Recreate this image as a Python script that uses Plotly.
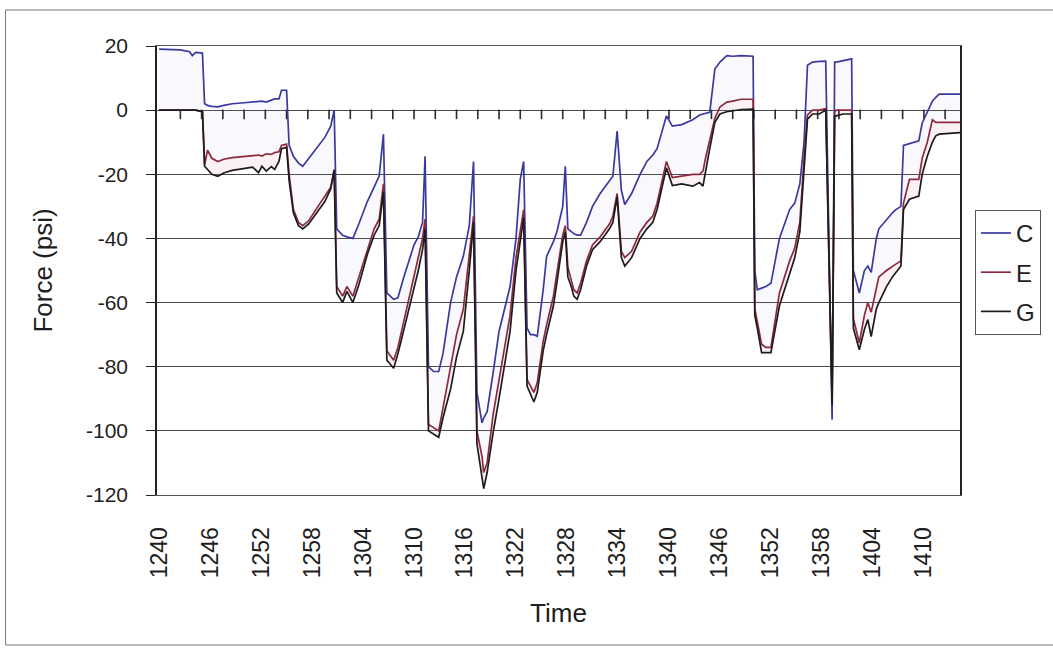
import plotly.graph_objects as go

# minutes after 12:40
minutes = [0.0, 1.0, 2.5, 3.6, 3.9, 4.3, 5.1, 5.35, 5.7, 6.2, 6.9, 7.6, 8.6, 10.0, 11.0, 11.7, 12.1, 12.6,
           13.2, 13.6, 14.1, 14.4, 15.0, 15.3, 15.8, 16.4, 16.9, 17.6, 18.7, 19.5, 20.2, 20.6,
           20.9, 21.6, 22.1, 22.8, 23.5, 24.5, 25.3, 25.9, 26.4,
           26.8, 27.6, 28.1, 28.8, 30.0, 30.5, 31.0, 31.3,
           31.7, 32.3, 32.9, 33.4, 34.3, 35.0, 35.8, 36.5, 37.0,
           37.4, 38.0, 38.2, 38.6, 39.3, 40.0, 41.3, 42.0, 42.5, 42.9,
           43.3, 43.7, 44.1, 44.5, 45.2, 45.6, 46.4, 46.8, 47.5, 47.8,
           48.1, 48.5, 48.8, 49.2, 49.6, 50.3, 51.0, 51.9, 52.2, 53.0, 53.4, 53.9,
           54.4, 54.8, 55.6, 56.6, 57.4, 58.1, 58.6, 59.7, 60.4, 61.5, 62.8, 63.6, 64.0, 64.3, 64.8,
           65.4, 66.0, 66.8, 67.5, 68.5, 69.9,
           70.1, 70.4, 70.9, 71.4, 72.0, 73.0, 74.2, 74.8, 75.4, 75.9, 76.3, 76.9, 77.7, 78.45,
           79.2, 79.5, 79.7, 80.5, 81.5,
           81.7, 82.4, 83.0, 83.4, 83.8, 84.4, 84.7, 85.6, 86.3, 86.7, 87.3, 87.6, 88.3, 89.4, 89.8,
           90.4, 91.0, 91.4, 91.8, 94.25]

C = [19, 19, 18.8, 18.2, 17, 18, 17.8, 2, 1.5, 1.2, 1.0, 1.5, 2.0, 2.3, 2.5, 2.6, 2.8, 2.5,
     3.2, 3.5, 3.5, 6.2, 6.2, -11, -14.4, -16.5, -17.5, -15, -11, -8.5, -5, 0,
     -37, -39, -39.5, -40, -35.5, -28.5, -24, -20.5, -7.5,
     -57, -59, -58.5, -52, -42, -39.5, -35, -14.4,
     -80, -81.5, -81.5, -76, -60, -52, -45.6, -36, -16,
     -88, -97.5, -96, -94, -82, -69, -55, -40, -21.6, -16,
     -68, -70, -70, -70.5, -56, -45.6, -41, -38, -30, -17.5,
     -37, -38, -38.5, -39, -39, -35, -30, -26, -25, -22, -20.6, -6.5,
     -25, -29.4, -26, -20, -16, -14, -12, -1.8, -5, -4.5, -3, -1.5, -1.2, -1, -0.7,
     12.8, 15, 17, 16.8, 17, 16.8,
     -50, -56, -55.5, -55, -54, -40, -31, -29, -23, -10, 14, 15, 15.2, 15.3,
     -96.5, 15, 15, 15.5, 16,
     -50, -57, -50, -48.6, -50.6, -40, -37, -34, -32, -31, -30, -11, -10.5, -9.6, -4,
     -0.7, 2.8, 4, 5, 5]

E = [0, 0, 0, 0.2, 0, 0, -0.5, -17, -12.5, -15, -16, -15.3, -14.8, -14.4, -14.2, -14, -14.3, -13.6,
     -13.8, -13.2, -13, -11, -10.6, -20, -31, -35, -36, -34.5, -30, -27, -24, -18.5,
     -55, -58, -55, -58, -52, -44, -37, -34, -23,
     -75, -78, -74, -66, -52, -46, -40, -34,
     -98, -99, -100, -93, -80, -70, -62, -46, -33,
     -100, -108, -113, -110, -95, -84, -64, -46, -37, -31,
     -84, -86, -88, -85, -72, -67, -58, -51, -39, -36,
     -49, -53, -56, -57, -54, -47, -42, -39.5, -38.5, -35.5, -33, -26,
     -44, -46, -44, -38, -35, -33, -29, -16, -21, -20.5, -20, -20, -19, -15, -9,
     -2.5, 1, 2.5, 2.8, 3.4, 3.4,
     -62, -66, -73, -74, -74, -57, -47, -43, -35, -15, -1.5, 0, 0, 0.5,
     -90, -0.5, 0, 0, 0,
     -65, -72.6, -64, -60, -63, -56, -52, -50, -48.6, -48, -47, -29, -21.6, -21.6, -15,
     -10, -3, -3.8, -3.8, -3.8]

G = [0, 0, 0, 0.2, 0, 0, -0.5, -17.5, -18.5, -20, -20.6, -19.6, -18.8, -18.2, -17.8, -19.5, -17.5, -19,
     -17.6, -18.5, -16, -12, -11.6, -22, -32, -36, -37, -35.5, -31.5, -28.5, -24.5, -18.8,
     -57, -60, -56.5, -60, -54.5, -45, -39, -36, -25.5,
     -78, -80.5, -76, -68.5, -56, -50, -43.5, -37,
     -100, -101, -102, -96, -87, -77, -69, -50, -35,
     -104, -114, -118, -113, -100.6, -90, -69, -50, -40, -33.5,
     -86, -88.5, -91, -88, -75, -70, -61, -54, -41, -38,
     -52, -55, -58, -59, -56, -48.6, -43.5, -41, -40, -37, -35, -27,
     -46, -48.6, -46, -40, -37, -35, -31, -18, -23.5, -23, -23.7, -22.6, -23.7, -19, -12,
     -3.8, -1.2, -0.5, -0.3, 0.2, 0.3,
     -64, -68, -75.6, -75.6, -75.6, -61, -50.6, -46, -38, -17.5, -2.8, -1.2, -1.2, 0,
     -92, -1.8, -1.8, -1.2, -1.2,
     -68, -74.7, -68.4, -65.3, -70.6, -62, -60, -55, -52, -50.6, -48.6, -31, -27.8, -26.8, -20,
     -14.4, -10, -8, -7.5, -7]

time_ticks = list(range(0, 91, 6))
time_labels = ["1240", "1246", "1252", "1258", "1304", "1310", "1316", "1322",
               "1328", "1334", "1340", "1346", "1352", "1358", "1404", "1410"]
minor_time_ticks = [2.5 * k for k in range(1, 38)]
force_ticks = [-120, -100, -80, -60, -40, -20, 0, 20]
force_labels = ["-120", "-100", "-80", "-60", "-40", "-20", "0", "20"]
Y_MIN, Y_MAX = -120, 20

FONT = "Liberation Sans, Arial, sans-serif"
TXT = "#1e1e1e"
col_c = "#3a3a9e"
col_e = "#8c2a3c"
col_g = "#1c1c1c"

fig = go.Figure()
# faint shading between the curves
fig.add_trace(go.Scatter(x=minutes, y=C, mode="lines", line=dict(width=0), showlegend=False, hoverinfo="skip"))
fig.add_trace(go.Scatter(x=minutes, y=E, mode="lines", line=dict(width=0), fill="tonexty",
                         fillcolor="rgba(170,160,215,0.07)", showlegend=False, hoverinfo="skip"))
fig.add_trace(go.Scatter(x=minutes, y=G, mode="lines", line=dict(width=0), fill="tonexty",
                         fillcolor="rgba(225,150,170,0.14)", showlegend=False, hoverinfo="skip"))

# category tick marks hanging below the zero line (drawn as one-sided error bars)
n_minor = len(minor_time_ticks)
tick_units = 9 * (Y_MAX - Y_MIN) / 449.0
fig.add_trace(go.Scatter(x=minor_time_ticks, y=[0] * n_minor, mode="markers",
                         marker=dict(size=2, color="rgba(40,40,40,0.6)"),
                         error_y=dict(type="data", symmetric=False, array=[0] * n_minor,
                                      arrayminus=[tick_units] * n_minor, width=0,
                                      thickness=1.6, color="#2a2a2a", visible=True),
                         showlegend=False, hoverinfo="skip"))

# series lines
for name, ys, col in [("C", C, col_c), ("E", E, col_e), ("G", G, col_g)]:
    fig.add_trace(go.Scatter(x=minutes, y=ys, mode="lines", name=name, legendgroup=name,
                             line=dict(color=col, width=1.7)))

xr = [-0.25, 94.25]
fig.update_layout(
    width=1053, height=653,
    margin=dict(l=157, r=90, t=46, b=158),
    paper_bgcolor="white", plot_bgcolor="white",
    font=dict(family=FONT, size=21, color=TXT),
    showlegend=True,
    legend=dict(x=1.0186, y=0.635, xanchor="left", yanchor="top",
                bordercolor="#555555", borderwidth=1, bgcolor="white",
                font=dict(size=24, family=FONT, color=TXT),
                tracegroupgap=5, itemwidth=30),
    xaxis=dict(range=xr, tickvals=time_ticks, ticktext=time_labels, tickangle=-90,
               ticks="", ticklabelstandoff=22, showgrid=False, zeroline=False,
               showline=True, mirror=True, linecolor="#555555", linewidth=1,
               tickfont=dict(size=23),
               title=dict(text="Time", font=dict(size=26), standoff=26)),
    yaxis=dict(range=[Y_MIN, Y_MAX], tickvals=force_ticks, ticktext=force_labels,
               ticks="outside", ticklen=9, tickcolor="#222222", ticklabelstandoff=14,
               showgrid=True, gridcolor="#4a4a4a", gridwidth=1, zeroline=False,
               showline=True, mirror=True, linecolor="#222222", linewidth=1.5,
               tickfont=dict(size=21),
               title=dict(text="Force (psi)", font=dict(size=26), standoff=26)),
    shapes=[dict(type="rect", xref="paper", yref="paper", x0=-0.1886, x1=1.25, y0=-0.3341, y1=1.0802,
                 line=dict(color="#777777", width=1), layer="below")],
)
fig.write_html("out.html")
